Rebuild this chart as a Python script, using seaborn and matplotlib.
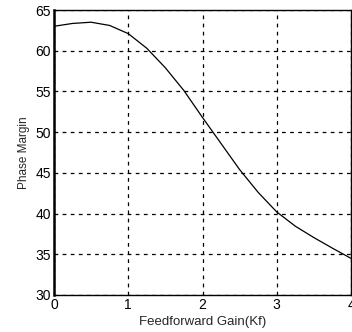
import matplotlib
matplotlib.use('Agg')
import matplotlib.pyplot as plt
import pandas as pd
import seaborn as sns

# Phase margin vs feedforward gain
gain = [0.0, 0.25, 0.5, 0.75, 1.0, 1.25, 1.5, 1.75, 2.0, 2.25, 2.5, 2.75,
        3.0, 3.25, 3.5, 3.75, 4.0]
phase_margin = [63.0, 63.35, 63.5, 63.1, 62.1, 60.3, 57.9, 55.1, 51.8, 48.6,
                45.4, 42.6, 40.2, 38.45, 37.05, 35.75, 34.5]
x_ticks = [0, 1, 2, 3, 4]
y_ticks = [30, 35, 40, 45, 50, 55, 60, 65]

sns.set_style('white')
plt.rcParams['font.family'] = ['Liberation Sans', 'DejaVu Sans']

df = pd.DataFrame({'gain': gain, 'pm': phase_margin})

fig = plt.figure(figsize=(3.52, 3.32), dpi=100)
ax = fig.add_axes([54 / 352, 1 - 295 / 332, 297 / 352, 285 / 332])

sns.lineplot(data=df, x='gain', y='pm', ax=ax, color='black', linewidth=0.9)

ax.set_xlim(0, 4)
ax.set_ylim(30, 65)
ax.set_xticks(x_ticks)
ax.set_yticks(y_ticks)
ax.set_xticklabels([str(t) for t in x_ticks], fontsize=10)
ax.set_yticklabels([str(t) for t in y_ticks], fontsize=10)
ax.tick_params(direction='in', length=3, width=0.8, pad=2, colors='black')

ax.grid(True, color='black', linestyle=(0, (3, 3.5)), linewidth=0.9)

for side in ['top', 'right', 'bottom']:
    ax.spines[side].set_color('black')
    ax.spines[side].set_linewidth(1.0)
ax.spines['left'].set_color('black')
ax.spines['left'].set_linewidth(1.8)

ax.set_xlabel('Feedforward Gain(Kf)', fontsize=9.5, labelpad=3)
ax.set_ylabel('Phase Margin', fontsize=8.5, labelpad=4)

fig.savefig('out.png', dpi=100)
